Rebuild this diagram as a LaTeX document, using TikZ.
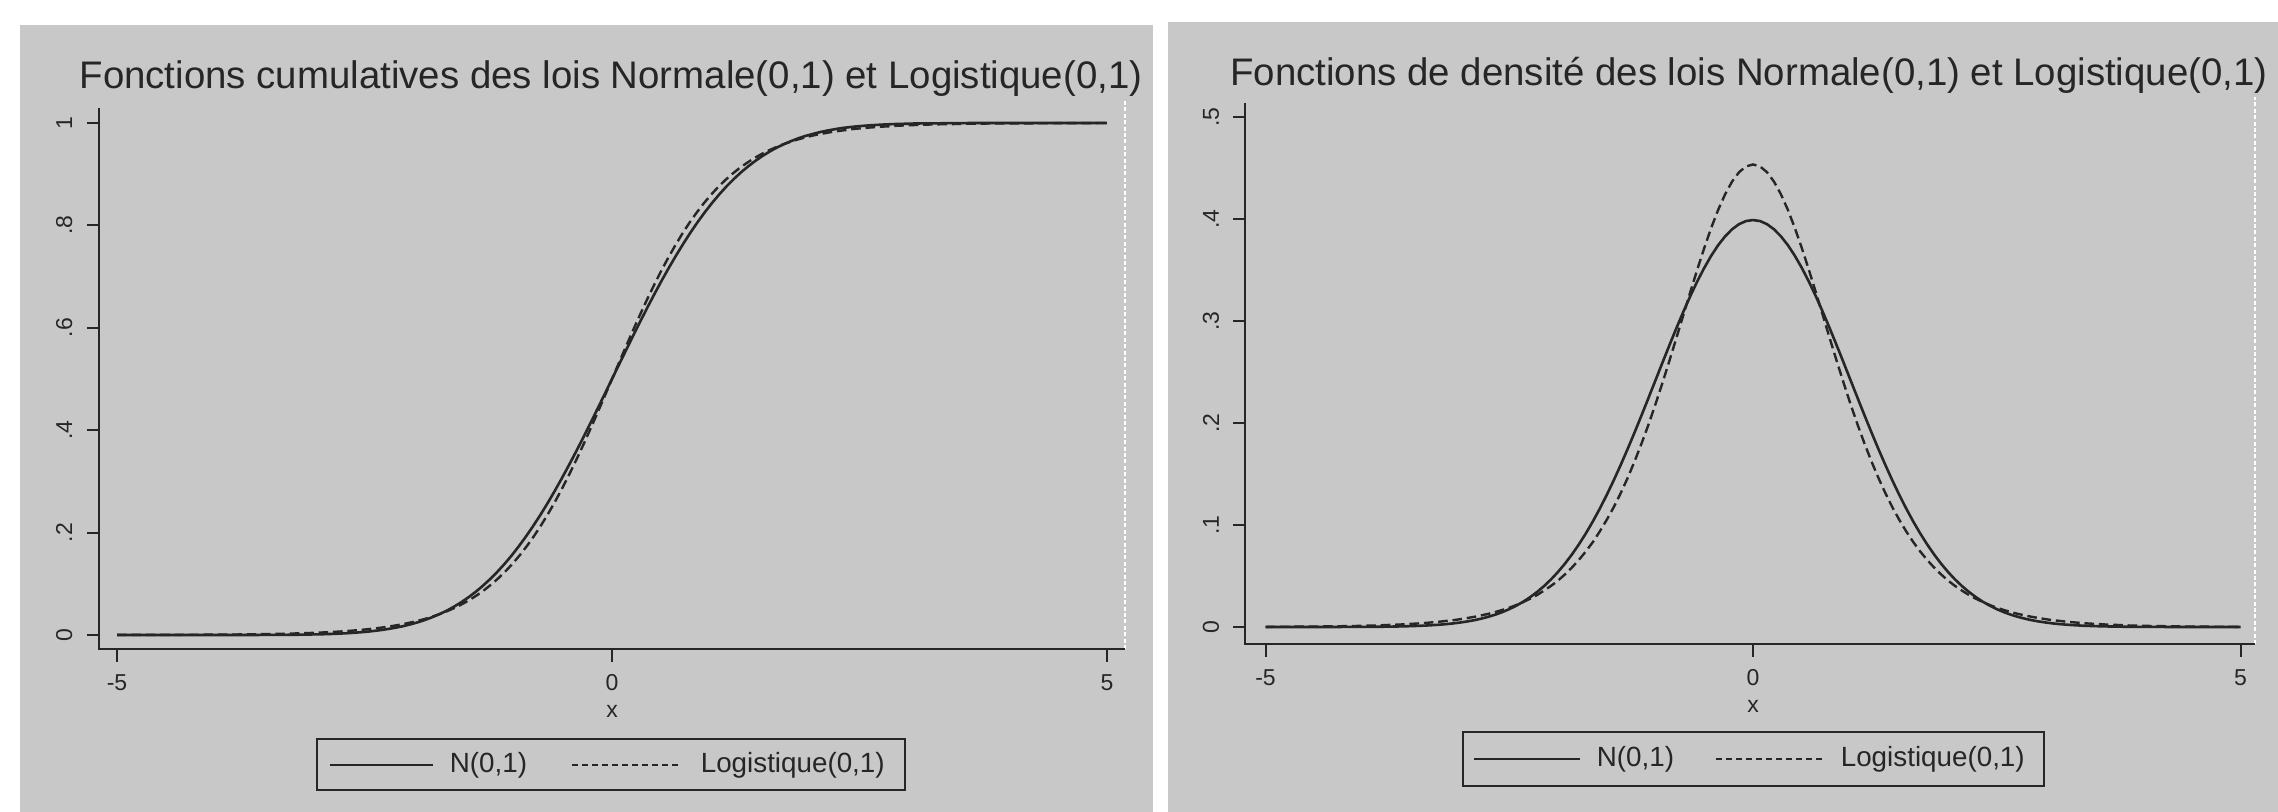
\documentclass[tikz,border=0pt]{standalone}
\usepackage{fontspec}
\setmainfont{Liberation Sans}
\usetikzlibrary{positioning}
\definecolor{panelgray}{RGB}{200,200,200}
\definecolor{inkgray}{RGB}{38,38,38}
\tikzset{
axis/.style={draw=inkgray, line width=0.5pt}, % axis lines and ticks
normcurve/.style={draw=inkgray, line width=0.65pt}, % N(0,1), solid
logcurve/.style={draw=inkgray, line width=0.6pt, dash pattern=on 2.4pt off 1.2pt}, % Logistique(0,1), dashed
regionedge/.style={draw=white, line width=0.5pt, dash pattern=on 1pt off 0.6pt}, % white edge of plot region
titlelab/.style={font=\fontsize{9.6}{10}\selectfont, text=inkgray, inner sep=0pt, anchor=base},
ticklab/.style={font=\fontsize{5.75}{6}\selectfont, text=inkgray, inner sep=0pt},
legbox/.style={draw=inkgray, line width=0.6pt},
legtext/.style={font=\fontsize{6.95}{7}\selectfont, text=inkgray, inner sep=0pt, anchor=west},
}

\begin{document}
\begin{tikzpicture}[x=0.25pt,y=0.25pt]
  \useasboundingbox[fill=white] (0,0) rectangle (2278,812);
  \fill[panelgray] (20,0) rectangle (1153,787);
  \fill[panelgray] (1168,0) rectangle (2278,790);

  % left graph: cumulative functions
  \node[titlelab] (titleA) at (611,723) {Fonctions cumulatives des lois Normale(0,1) et Logistique(0,1)};
  \begin{scope}[shift={(612,177)}, x=24.75pt, y=128pt]
    \coordinate (oA) at (-5.18,-0.0273);
    \coordinate (xA) at (5.18,-0.0273);
    \coordinate (yA) at (-5.18,1.029);
    \coordinate (cA) at (5.18,1.047);
    \draw[regionedge] (xA) -- (cA);
    \draw[axis] (yA) -- (oA) -- (xA);
    \foreach \v/\t in {0/0, 0.2/.2, 0.4/.4, 0.6/.6, 0.8/.8, 1/1} {
      \draw[axis] (-5.18,\v) -- ++(-3pt,0);
      \node[ticklab, rotate=90] (yA\t) at ([xshift=-8.75pt]-5.18,\v) {\t};
    }
    \foreach \u in {-5,0,5} {
      \draw[axis] (\u,-0.0273) -- ++(0,-3.25pt);
      \node[ticklab] (xA\u) at ([yshift=-8.5pt]\u,-0.0273) {\u};
    }
    \node[ticklab] (xlabA) at ([yshift=-15.5pt]0,-0.0273) {x};
    \draw[normcurve] plot[domain=-5:0, samples=70] (\x,{exp(0.07056*(\x)*(\x)*(\x)+1.5976*(\x))/(1+exp(0.07056*(\x)*(\x)*(\x)+1.5976*(\x)))})
      -- plot[domain=0:5, samples=70] (\x,{1/(1+exp(-0.07056*(\x)*(\x)*(\x)-1.5976*(\x)))});
    \draw[logcurve] plot[domain=-5:5, samples=141] (\x,{1/(1+exp(-1.8138*(\x)))});
  \end{scope}
  \draw[legbox] (317,22) rectangle (905,73);
  \coordinate (lsA) at (330,47);
  \coordinate (leA) at (433,47);
  \draw[normcurve, line width=0.5pt] (lsA) -- (leA);
  \node[legtext, right=4pt of leA] (lnA) {N(0,1)};
  \coordinate (ldA) at (572,47);
  \coordinate (lfA) at (678,47);
  \draw[logcurve, line width=0.45pt, dash pattern=on 1.5pt off 1pt] (ldA) -- (lfA);
  \node[legtext, right=5.5pt of lfA] (llA) {Logistique(0,1)};

  % right graph: densities
  \node[titlelab] (titleB) at (1749,726) {Fonctions de densité des lois Normale(0,1) et Logistique(0,1)};
  \begin{scope}[shift={(1753,185)}, x=24.375pt, y=255pt]
    \coordinate (oB) at (-5.21,-0.0167);
    \coordinate (xB) at (5.15,-0.0167);
    \coordinate (yB) at (-5.21,0.514);
    \coordinate (cB) at (5.15,0.52);
    \draw[regionedge] (xB) -- (cB);
    \draw[axis] (yB) -- (oB) -- (xB);
    \foreach \v/\t in {0/0, 0.1/.1, 0.2/.2, 0.3/.3, 0.4/.4, 0.5/.5} {
      \draw[axis] (-5.21,\v) -- ++(-3pt,0);
      \node[ticklab, rotate=90] (yB\t) at ([xshift=-8.5pt]-5.21,\v) {\t};
    }
    \foreach \u in {-5,0,5} {
      \draw[axis] (\u,-0.0167) -- ++(0,-3.25pt);
      \node[ticklab] (xB\u) at ([yshift=-8.5pt]\u,-0.0167) {\u};
    }
    \node[ticklab] (xlabB) at ([yshift=-15.5pt]0,-0.0167) {x};
    \draw[normcurve] plot[domain=-5:5, samples=141] (\x,{0.39894*exp(-0.5*(\x)*(\x))});
    \draw[logcurve] plot[domain=-5:5, samples=141] (\x,{1.8138*exp(-1.8138*abs(\x))/((1+exp(-1.8138*abs(\x)))^2)});
  \end{scope}
  \draw[legbox] (1463,26) rectangle (2044,80);
  \coordinate (lsB) at (1474,53);
  \coordinate (leB) at (1580,53);
  \draw[normcurve, line width=0.5pt] (lsB) -- (leB);
  \node[legtext, right=4pt of leB] (lnB) {N(0,1)};
  \coordinate (ldB) at (1716,53);
  \coordinate (lfB) at (1822,53);
  \draw[logcurve, line width=0.45pt, dash pattern=on 1.5pt off 1pt] (ldB) -- (lfB);
  \node[legtext, right=4.5pt of lfB] (llB) {Logistique(0,1)};
\end{tikzpicture}
\end{document}
